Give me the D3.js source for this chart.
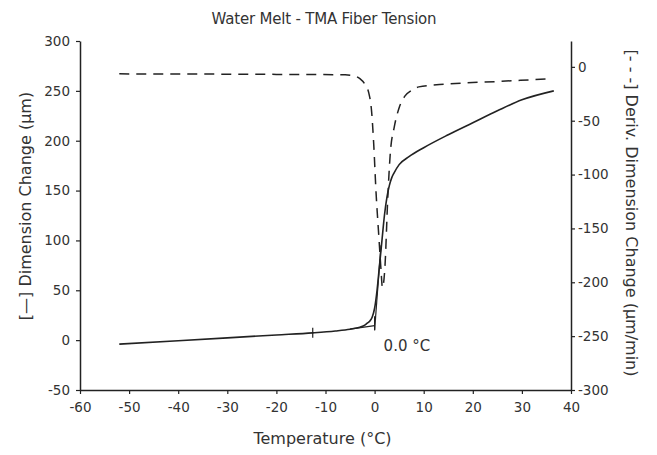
<!DOCTYPE html>
<html>
<head>
<meta charset="utf-8">
<script src="https://cdn.jsdelivr.net/npm/d3@7"></script>
<style>
  body { margin: 0; background: #fff; }
  text { font-family: "DejaVu Sans", sans-serif; fill: #333; }
</style>
</head>
<body>
<div class="chart"></div>
<script>
// Temperature (°C) and dimension change (µm), solid line
var tempSolid = [-52, -40, -30, -20, -12.6, -8, -5, -3, -2, -1.5, -1, -0.5, 0, 0.5, 1, 1.5, 2, 2.5, 3, 3.5, 4, 5, 7, 10, 15, 20, 25, 30, 36.5];
var dimChange = [-4, -0.6, 2.3, 5.2, 7.3, 9.2, 11, 13, 15, 17, 19, 23, 32, 50, 75, 100, 125, 143, 155, 163, 168, 176, 184, 193, 206, 218, 230, 241, 250];

// Temperature (°C) and derivative (µm/min), dashed line
var tempDeriv = [-52, -20, -6, -4, -3, -2, -1.2, -0.6, -0.2, 0.3, 0.9, 1.3, 1.6, 2.1, 2.7, 3.2, 4, 5, 6.2, 7.5, 9, 14.7, 25, 36];
var derivChange = [-6.5, -7, -7.4, -8.5, -11, -16, -24, -42, -70, -117, -160, -188, -205, -186, -120, -80, -56, -38, -27, -22, -18.6, -16, -13.6, -11];

var xTicks = [-60, -50, -40, -30, -20, -10, 0, 10, 20, 30, 40];
var yLeftTicks = [-50, 0, 50, 100, 150, 200, 250, 300];
var yRightTicks = [-300, -250, -200, -150, -100, -50, 0];

// onset construction (tick on baseline, tangents, onset marker)
var markTemp = -12.6;
var onsetTemp = 0.0;
var baseTangent = [[-5, 11], [0, 14.5]];
var steepTangent = [[0, 10], [1.3, 95]];
var onsetMark = [10, 24];

var width = 657, height = 455;
var mLeft = 80, mRight = 571, mTop = 41, mBottom = 390;

var svg = d3.select('.chart')
    .append('svg')
    .attr('width', width)
    .attr('height', height);

var x = d3.scaleLinear().domain([-60, 40]).range([mLeft, mRight]);
var yL = d3.scaleLinear().domain([-50, 300]).range([mBottom, mTop]);
var yR = d3.scaleLinear().domain([-300, 24]).range([mBottom, mTop]);

var fmt = d => String(d);

// axes
var gx = svg.append('g')
    .attr('transform', 'translate(0,' + mBottom + ')')
    .call(d3.axisBottom(x).tickValues(xTicks).tickFormat(fmt).tickSize(4).tickPadding(8).tickSizeOuter(0));
var gl = svg.append('g')
    .attr('transform', 'translate(' + mLeft + ',0)')
    .call(d3.axisLeft(yL).tickValues(yLeftTicks).tickFormat(fmt).tickSize(4).tickPadding(6).tickSizeOuter(0));
var gr = svg.append('g')
    .attr('transform', 'translate(' + mRight + ',0)')
    .call(d3.axisRight(yR).tickValues(yRightTicks).tickFormat(fmt).tickSize(4).tickPadding(3).tickSizeOuter(0));

[gx, gl, gr].forEach(function(g) {
    g.selectAll('path').attr('stroke', '#222').attr('stroke-width', 1.5);
    g.selectAll('line').attr('stroke', '#222').attr('stroke-width', 1.2);
    g.selectAll('text').attr('font-size', 13.5).attr('fill', '#333')
        .attr('font-family', '"DejaVu Sans", sans-serif');
});

// curves
var solidData = tempSolid.map(function(t, i) { return [t, dimChange[i]]; });
var dashData = tempDeriv.map(function(t, i) { return [t, derivChange[i]]; });

var lineL = d3.line().x(d => x(d[0])).y(d => yL(d[1])).curve(d3.curveMonotoneX);
var lineR = d3.line().x(d => x(d[0])).y(d => yR(d[1])).curve(d3.curveMonotoneX);

svg.append('path')
    .datum(dashData)
    .attr('d', lineR)
    .attr('fill', 'none')
    .attr('stroke', '#222')
    .attr('stroke-width', 1.5)
    .attr('stroke-dasharray', '10,7');

svg.append('path')
    .datum(solidData)
    .attr('d', lineL)
    .attr('fill', 'none')
    .attr('stroke', '#222')
    .attr('stroke-width', 1.6);

// construction lines
var straight = d3.line().x(d => x(d[0])).y(d => yL(d[1]));
[baseTangent, steepTangent].forEach(function(seg) {
    svg.append('path').attr('d', straight(seg))
        .attr('fill', 'none').attr('stroke', '#222').attr('stroke-width', 1.2);
});
svg.append('line')
    .attr('x1', x(onsetTemp)).attr('x2', x(onsetTemp))
    .attr('y1', yL(onsetMark[0])).attr('y2', yL(onsetMark[1]))
    .attr('stroke', '#222').attr('stroke-width', 1.2);

var iMark = tempSolid.indexOf(markTemp);
svg.append('line')
    .attr('x1', x(markTemp)).attr('x2', x(markTemp))
    .attr('y1', yL(dimChange[iMark]) - 5).attr('y2', yL(dimChange[iMark]) + 5)
    .attr('stroke', '#222').attr('stroke-width', 1.2);

svg.append('text')
    .attr('x', x(onsetTemp) + 9)
    .attr('y', yL(0) + 11)
    .attr('font-size', 15)
    .text(onsetTemp.toFixed(1) + ' °C');

// titles
svg.append('text')
    .attr('x', 324).attr('y', 24)
    .attr('text-anchor', 'middle')
    .attr('font-size', 15)
    .attr('letter-spacing', -0.2)
    .text('Water Melt - TMA Fiber Tension');

svg.append('text')
    .attr('x', (mLeft + mRight) / 2 - 3).attr('y', 444)
    .attr('text-anchor', 'middle')
    .attr('font-size', 16)
    .text('Temperature (°C)');

svg.append('text')
    .attr('transform', 'translate(31,' + 206 + ') rotate(-90)')
    .attr('text-anchor', 'middle')
    .attr('font-size', 16)
    .text('[—] Dimension Change (µm)');

svg.append('text')
    .attr('transform', 'translate(626,' + 213 + ') rotate(90)')
    .attr('text-anchor', 'middle')
    .attr('font-size', 16)
    .text('[- - -] Deriv. Dimension Change (µm/min)');
</script>
</body>
</html>
